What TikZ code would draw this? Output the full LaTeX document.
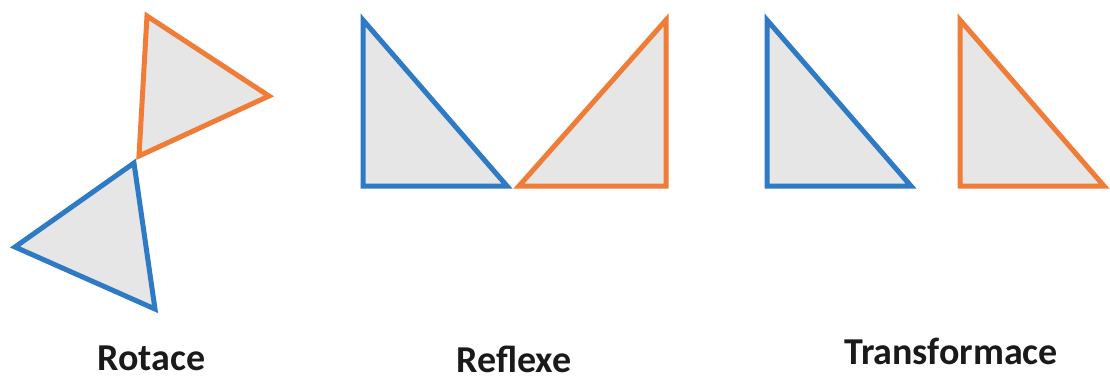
\documentclass[tikz,border=0pt]{standalone}
\usepackage{fontspec}
\setmainfont{Carlito}
\definecolor{tblue}{RGB}{46,122,196}
\definecolor{torange}{RGB}{240,125,55}
\definecolor{tgray}{RGB}{230,230,230}
\definecolor{ttext}{RGB}{26,26,26}
\begin{document}
\begin{tikzpicture}[x=1pt,y=-1pt,
  tri/.style={fill=tgray,line width=5pt,line join=miter},
  bl/.style={tri,draw=tblue},
  og/.style={tri,draw=torange},
  lbl/.style={font=\fontsize{38}{40}\selectfont\bfseries,text=ttext,anchor=base,inner sep=0pt}]
\useasboundingbox (0,0) rectangle (1110,376);
% Rotace
\draw[og] (147,16) -- (269,96) -- (139,156) -- cycle;
\draw[bl] (134,163) -- (15,247) -- (155,309) -- cycle;
% Reflexe
\draw[bl] (363,20) -- (363,186) -- (507,186) -- cycle;
\draw[og] (519,186) -- (666,20) -- (666,186) -- cycle;
% Transformace
\draw[bl] (767,20) -- (767,186) -- (911,186) -- cycle;
\draw[og] (960,20) -- (960,186) -- (1104,186) -- cycle;
\node[lbl] (rot) at (151.5,370) {Rotace};
\node[lbl] (ref) at (514,372) {Reflexe};
\node[lbl] (tra) at (951,364) {Transformace};
\end{tikzpicture}
\end{document}
